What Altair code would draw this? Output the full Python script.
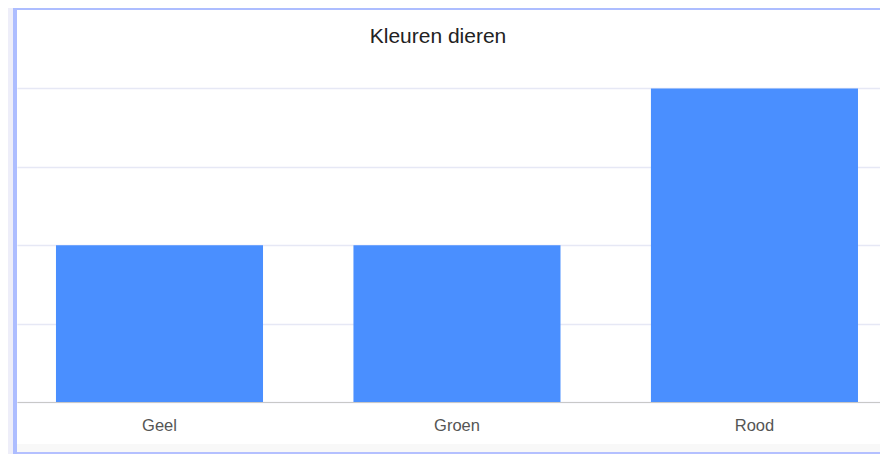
import altair as alt
import pandas as pd

# ---- data ----
title_text = "Kleuren dieren"
categories = ["Geel", "Groen", "Rood"]
values = [2, 2, 4]
grid_values = [0, 1, 2, 3, 4]

df = pd.DataFrame({"kleur": categories, "aantal": values})

W, H = 863, 392
BORDER = "#ADBDFF"
LAVENDER = "#EEEEF9"

one = alt.Data(values=[{"k": 0}])

bars = alt.Chart(df).mark_bar(color="#4A8FFF").encode(
    x=alt.X(
        "kleur:N",
        sort=categories,
        scale=alt.Scale(paddingInner=0.304, paddingOuter=0.1025, align=0.639),
        axis=alt.Axis(
            title=None,
            labelAngle=0,
            ticks=False,
            domainColor="#C8C8C8",
            domainWidth=1,
            labelFont="Liberation Sans",
            labelFontSize=16.5,
            labelColor="#555555",
            labelPadding=15,
        ),
    ),
    y=alt.Y(
        "aantal:Q",
        scale=alt.Scale(domain=[0, 5], nice=False),
        axis=alt.Axis(
            title=None,
            labels=False,
            ticks=False,
            domain=False,
            values=grid_values,
            grid=True,
            gridColor="#E6E8F5",
            gridWidth=1.5,
        ),
    ),
)

def frame_rect(x, x2, y, y2, color):
    return alt.Chart(one).mark_rect(color=color).encode(
        x=alt.value(x), x2=alt.value(x2), y=alt.value(y), y2=alt.value(y2)
    )

frame = [
    frame_rect(-9, -4, -2, 444, LAVENDER),
    frame_rect(-4, 0, -2, 444, BORDER),
    frame_rect(-4, W, -2, 0, BORDER),
    frame_rect(0, W, 434, 442, "#F8F8F8"),
    frame_rect(0, W, 442, 444, "#B4C0FF"),
]

title = alt.Chart(one).mark_text(
    text=title_text,
    font="Liberation Sans",
    fontSize=21,
    color="#222222",
    align="center",
    baseline="alphabetic",
).encode(x=alt.value(421), y=alt.value(33))

chart = alt.layer(*frame, bars, title).properties(
    width=W,
    height=H,
    autosize=alt.AutoSizeParams(type="none"),
    padding={"left": 9, "top": 2, "right": 0, "bottom": 52},
).configure(background="white").configure_view(strokeWidth=0)

chart.save("out.html", embed_options={"renderer": "svg", "actions": False})
